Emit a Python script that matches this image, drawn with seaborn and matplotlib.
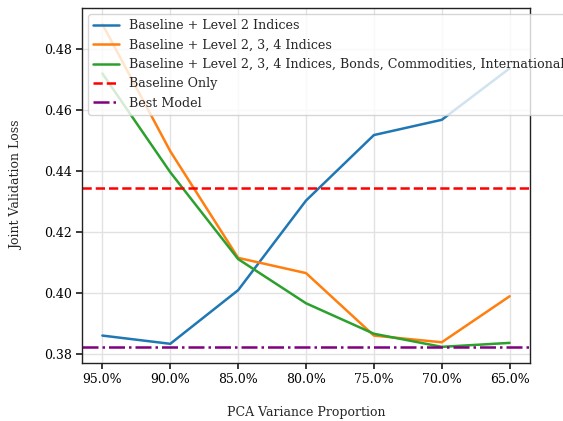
import matplotlib
matplotlib.use("Agg")
import matplotlib.pyplot as plt
import seaborn as sns
import pandas as pd

# PCA variance thresholds (x axis, descending)
variance = ["95.0%", "90.0%", "85.0%", "80.0%", "75.0%", "70.0%", "65.0%"]

level2 = [0.3860, 0.3833, 0.4009, 0.4303, 0.4518, 0.4568, 0.4737]
level234 = [0.4882, 0.4465, 0.4115, 0.4065, 0.3860, 0.3838, 0.3989]
level234_plus = [0.4720, 0.4396, 0.4111, 0.3966, 0.3866, 0.3823, 0.3836]

series_names = [
    "Baseline + Level 2 Indices",
    "Baseline + Level 2, 3, 4 Indices",
    "Baseline + Level 2, 3, 4 Indices, Bonds, Commodities, International",
]
baseline_only = 0.4343
best_model = 0.3823

sns.set_theme(style="whitegrid")
plt.rcParams["font.family"] = ["DejaVu Serif"]
plt.rcParams.update({
    "axes.edgecolor": "#222222",
    "axes.linewidth": 1.0,
    "grid.color": "#e2e2e2",
    "xtick.bottom": True,
    "ytick.left": True,
    "xtick.color": "#222222",
    "ytick.color": "#222222",
    "xtick.labelcolor": "black",
    "ytick.labelcolor": "black",
    "xtick.major.size": 4,
    "ytick.major.size": 4,
})

rows = []
for name, vals in zip(series_names, [level2, level234, level234_plus]):
    for v, y in zip(variance, vals):
        rows.append({"variance": v, "loss": y, "series": name})
df = pd.DataFrame(rows)

fig, ax = plt.subplots(figsize=(5.63, 4.21), dpi=100)
fig.subplots_adjust(left=0.1457, right=0.9414, top=0.981, bottom=0.1378)

palette = ["#1f77b4", "#ff7f0e", "#2ca02c"]
sns.lineplot(data=df, x="variance", y="loss", hue="series", palette=palette,
             linewidth=1.8, ax=ax, sort=False)
ax.axhline(baseline_only, color="red", linestyle="--", linewidth=1.8, label="Baseline Only")
ax.axhline(best_model, color="purple", linestyle="-.", linewidth=1.8, label="Best Model")

ax.set_xlabel("PCA Variance Proportion", fontsize=9, labelpad=14)
ax.set_ylabel("Joint Validation Loss", fontsize=9, labelpad=15)
ax.tick_params(labelsize=9)
ax.set_yticks([0.38, 0.40, 0.42, 0.44, 0.46, 0.48])
ax.set_yticklabels([f"{t:.2f}" for t in [0.38, 0.40, 0.42, 0.44, 0.46, 0.48]])

ax.legend(loc="upper left", fontsize=9.1, framealpha=0.8)

fig.savefig("out.png", dpi=100)
